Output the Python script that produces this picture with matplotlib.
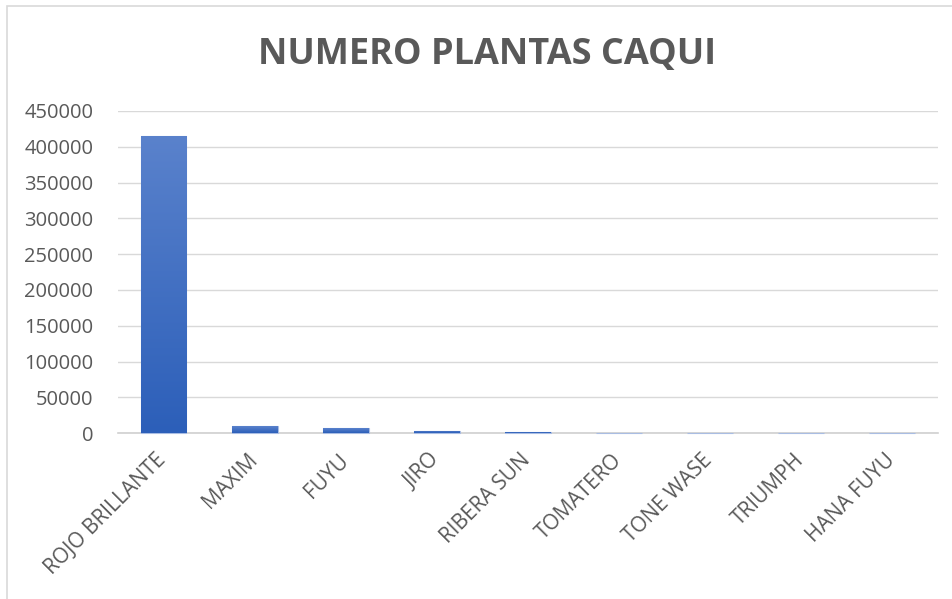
import numpy as np
import matplotlib.pyplot as plt
import matplotlib.transforms as mtransforms
from matplotlib.colors import LinearSegmentedColormap
from matplotlib.patches import Rectangle

# Chart data
variedades = ["ROJO BRILLANTE", "MAXIM", "FUYU", "JIRO", "RIBERA SUN",
              "TOMATERO", "TONE WASE", "TRIUMPH", "HANA FUYU"]
plantas = [415000, 9500, 6500, 3500, 1800, 500, 400, 300, 200]
y_ticks = [0, 50000, 100000, 150000, 200000, 250000, 300000, 350000, 400000, 450000]

TXT = "#595959"
plt.rcParams['font.family'] = ['Open Sans', 'DejaVu Sans']

fig = plt.figure(figsize=(9.53, 5.99), dpi=100)
ax = fig.add_axes([0.124, 0.277, 0.86, 0.5377])

x = np.arange(len(variedades))
# pale base so the tiny bars still show as a thin line
bars = ax.bar(x, plantas, width=0.5, color="#a9bde3", edgecolor="#a9bde3",
              linewidth=0.8, zorder=3, clip_on=False)

# vertical gradient fill for each bar
cmap = LinearSegmentedColormap.from_list("azul", ["#2c5fb9", "#5a82cc"])
grad = np.linspace(0, 1, 256).reshape(-1, 1)
for b in bars:
    x0, w, h = b.get_x(), b.get_width(), b.get_height()
    im = ax.imshow(grad, cmap=cmap, origin="lower", aspect="auto",
                   extent=[x0, x0 + w, 0, h], zorder=3.5)
    im.set_clip_path(b)

ax.set_xlim(-0.5, len(variedades) - 0.5)
ax.set_ylim(0, 450000)
ax.set_yticks(y_ticks)
ax.set_yticklabels([str(v) for v in y_ticks])
ax.set_xticks(x)
ax.set_xticklabels(variedades, rotation=45, ha="right", rotation_mode="anchor")

ax.yaxis.grid(True, color="#d9d9d9", linewidth=1, zorder=0)
ax.set_axisbelow(True)
for s in ["top", "right", "left"]:
    ax.spines[s].set_visible(False)
ax.spines["bottom"].set_color("#d0d0d0")
ax.spines["bottom"].set_linewidth(1.2)
ax.tick_params(axis="both", length=0, labelsize=14.5, colors=TXT)
ax.tick_params(axis="x", labelsize=15, pad=12)
ax.tick_params(axis="y", pad=18)

# nudge the rotated labels a bit to the left
shift = mtransforms.ScaledTranslation(-8 / 100, 0, fig.dpi_scale_trans)
for lbl in ax.get_xticklabels():
    lbl.set_transform(lbl.get_transform() + shift)

fig.text(0.511, 0.909, "NUMERO PLANTAS CAQUI", ha="center", va="center",
         fontsize=26, fontweight="bold", color=TXT)

# chart area border
fig.patches.append(Rectangle((0.0075, -0.01), 1.0, 1.0, transform=fig.transFigure,
                             fill=False, edgecolor="#d9d9d9", linewidth=1.2))

fig.savefig("out.png", dpi=100)
